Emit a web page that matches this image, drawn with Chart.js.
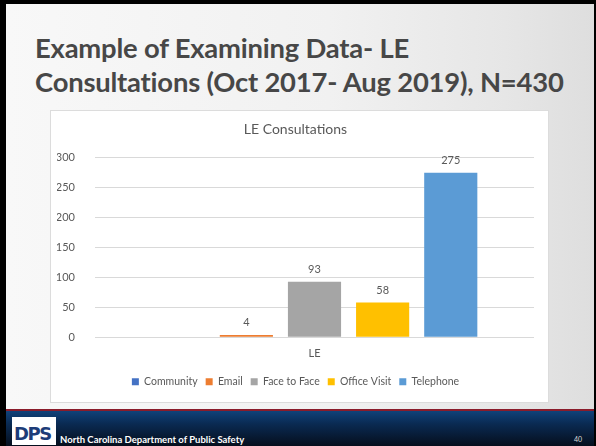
<!DOCTYPE html>
<html lang="en">
<head>
  <meta charset="UTF-8">
  <title>LE Consultations</title>
  <script src="https://cdn.jsdelivr.net/npm/chart.js"></script>
  <style>
    html, body { margin: 0; padding: 0; }
    body { width: 596px; height: 446px; background: #000; position: relative; overflow: hidden; font-family: Lato, "Open Sans", sans-serif; }
    #slide { position: absolute; left: 6px; top: 4px; width: 588px; height: 442px;
      background: linear-gradient(to right, #f8f8f8 0%, #f1f1f1 55%, #e6e6e6 85%, #dedede 100%); }
    #titulo { position: absolute; left: 29px; top: 27px; margin: 0; font-size: 27.4px; font-weight: 700;
      line-height: 34px; color: #474747; letter-spacing: -0.2px; }
    #caixa { position: absolute; left: 44px; top: 106px; width: 497px; height: 291px; background: #fff;
      border: 1px solid #dcdcdc; }
    #rodape { position: absolute; left: 0; top: 405px; width: 588px; height: 37px;
      border-top: 2px solid #8a1c2b; background: linear-gradient(to bottom, #10427a 0%, #0a2a52 35%, #050c18 100%); }
    #logo { position: absolute; left: 6px; top: 6px; width: 44px; height: 28px; background: #fff;
      font: 900 18px "DejaVu Sans", sans-serif; color: #1d3c78; line-height: 34px; text-align: left; padding-left: 2px; box-sizing: border-box; letter-spacing: -1.5px; }
    #org { position: absolute; left: 54px; top: 23px; color: #fff; font-size: 9.5px; font-weight: 700; }
    #pag { position: absolute; right: 12px; top: 24px; color: #ddd; font-size: 7px; }
  </style>
</head>
<body>
  <div id="slide">
    <h1 id="titulo">Example of Examining Data- LE<br>Consultations (Oct 2017- Aug 2019), N=430</h1>
    <div id="caixa"><canvas id="grafico" width="497" height="291"></canvas></div>
    <div id="rodape">
      <div id="logo">DPS</div>
      <div id="org">North Carolina Department of Public Safety</div>
      <div id="pag">40</div>
    </div>
  </div>

  <script>
    // dados
    const categorias = ['LE'];
    const series = ['Community', 'Email', 'Face to Face', 'Office Visit', 'Telephone'];
    const valores = [0, 4, 93, 58, 275];
    const cores = ['#4472C4', '#ED7D31', '#A5A5A5', '#FFC000', '#5B9BD5'];
    const ticksY = [0, 50, 100, 150, 200, 250, 300];

    // rótulos de valor acima das barras
    const rotulos = {
      id: 'rotulos',
      afterDatasetsDraw(chart) {
        const ctx = chart.ctx;
        ctx.save();
        ctx.font = '11px Lato, sans-serif';
        ctx.fillStyle = '#595959';
        ctx.textAlign = 'center';
        ctx.textBaseline = 'bottom';
        chart.data.datasets.forEach((ds, i) => {
          chart.getDatasetMeta(i).data.forEach((bar, j) => {
            const v = ds.data[j];
            if (!v) return;
            ctx.fillText(v, bar.x, bar.y - 7);
          });
        });
        ctx.restore();
      }
    };

    const ctx = document.getElementById('grafico').getContext('2d');
    new Chart(ctx, {
      type: 'bar',
      data: {
        labels: categorias,
        datasets: series.map((s, i) => ({
          label: s,
          data: [valores[i]],
          backgroundColor: cores[i]
        }))
      },
      options: {
        responsive: false,
        animation: false,
        layout: { padding: { left: 6, right: 14, top: 4, bottom: 5 } },
        datasets: { bar: { categoryPercentage: 0.776, barPercentage: 0.78 } },
        scales: {
          x: {
            grid: { display: false },
            border: { display: false },
            ticks: { color: '#595959', font: { family: 'Lato', size: 11 }, padding: 2 },
            afterFit: axis => { axis.height += 6; }
          },
          y: {
            min: 0, max: 300,
            afterBuildTicks: axis => { axis.ticks = ticksY.map(v => ({ value: v })); },
            afterFit: axis => { axis.width = 38; },
            grid: { color: '#d9d9d9', drawTicks: false },
            border: { display: false },
            ticks: { color: '#595959', font: { family: 'Lato', size: 11 }, padding: 20 }
          }
        },
        plugins: {
          title: { display: true, text: 'LE Consultations', color: '#595959',
            font: { family: 'Lato', size: 14, weight: 'normal' }, padding: { top: 6, bottom: 20 } },
          legend: { position: 'bottom',
            labels: { boxWidth: 7, boxHeight: 7, color: '#595959', font: { family: 'Lato', size: 10.5 }, padding: 8 } },
          tooltip: { enabled: false }
        }
      },
      plugins: [rotulos]
    });
  </script>
</body>
</html>
